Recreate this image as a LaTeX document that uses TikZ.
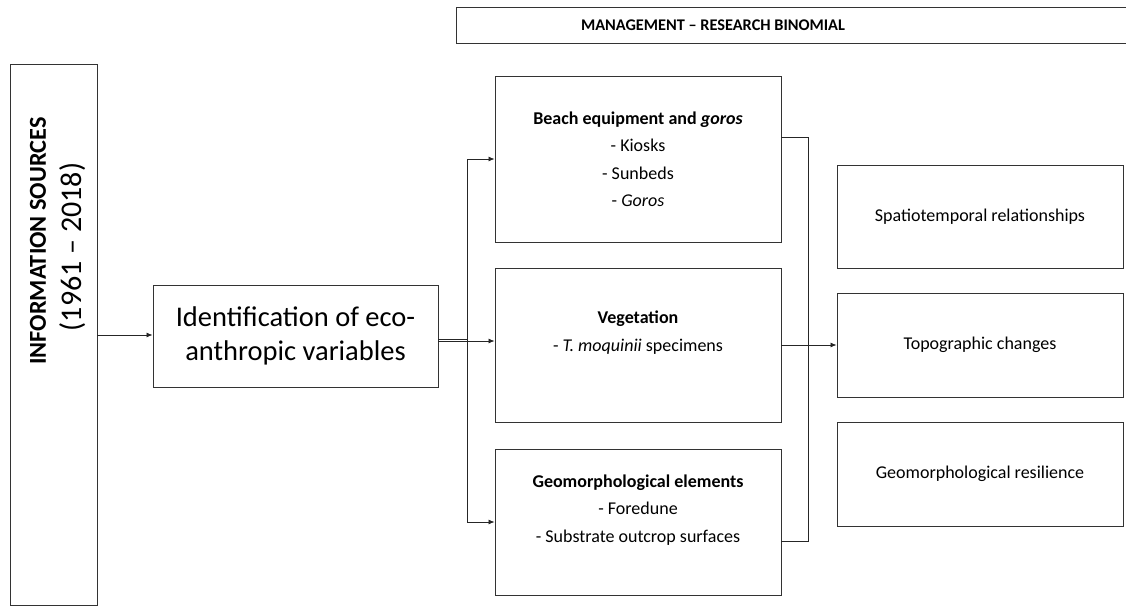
\documentclass[tikz,border=0pt]{standalone}
\usepackage{fontspec}
\setmainfont{Carlito}
\usetikzlibrary{arrows.meta}
\begin{document}
\begin{tikzpicture}[x=1pt,y=-1pt,
  box/.style={draw=black!80, line width=0.9pt, inner sep=0pt, align=center},
  conn/.style={draw=black!85, line width=0.8pt},
  arr/.style={conn, -{Latex[length=6pt,width=5pt]}},
  body/.style={font=\fontsize{18}{27.5}\selectfont}]
\useasboundingbox (0,0) rectangle (1126,608);
% header
\node[box, minimum width=680pt, minimum height=36pt, anchor=west] (hdr) at (456,25) {};
\node[font=\bfseries\fontsize{16.3}{20}\selectfont] (hdrtext) at (713,25) {MANAGEMENT – RESEARCH BINOMIAL};
% information sources
\node[box, rotate=90, minimum width=541pt, minimum height=87pt] (info) at (53.5,334.5) {};
\node[rotate=90, font=\bfseries\fontsize{24.3}{28}\selectfont] (infotext) at (38,241) {INFORMATION SOURCES};
\node[rotate=90, font=\fontsize{30}{32}\selectfont] (infoyears) at (73,247) {(1961 – 2018)};
% identification
\node[box, minimum width=285pt, minimum height=102pt, font=\fontsize{28.5}{34}\selectfont] (ident) at (295.5,336)
  {Identification of eco-\\anthropic variables};
% middle column
\node[box, body, minimum width=286pt, minimum height=166pt] (beach) at (638,159)
  {\textbf{Beach equipment and \textit{goros}}\\- Kiosks\\- Sunbeds\\- \textit{Goros}};
\node[box, body, minimum width=286pt, minimum height=154pt] (veg) at (638,345)
  {\textbf{Vegetation}\\- \textit{T. moquinii} specimens\\\mbox{}};
\node[box, body, minimum width=286pt, minimum height=146pt] (geo) at (638,522)
  {\textbf{Geomorphological elements}\\- Foredune\\- Substrate outcrop surfaces\\\mbox{}};
% right column
\node[box, body, minimum width=286pt, minimum height=103pt] (spat) at (980,216.5) {Spatiotemporal relationships};
\node[box, body, minimum width=286pt, minimum height=104pt] (topo) at (980,345) {Topographic changes};
\node[box, body, minimum width=286pt, minimum height=104pt] (resil) at (980,474) {Geomorphological resilience};
% connectors
\draw[arr] (info.south |- 0,335) -- (ident.west |- 0,335);
\coordinate (jt) at (467,159);
\coordinate (jb) at (467,522);
\coordinate (jm) at (467,341);
\draw[conn] (ident.east |- 0,339) -- (jm |- 0,339);
\draw[conn] (ident.east |- 0,341.5) -- (jm |- 0,341.5);
\draw[conn] (jt) -- (jb);
\draw[arr] (jt) -- (beach.west |- jt);
\draw[arr] (jb) -- (geo.west |- jb);
\draw[arr] (jm) -- (veg.west |- jm);
\coordinate (rt) at (808,137);
\coordinate (rb) at (808,541);
\draw[conn] (beach.east |- rt) -- (rt) -- (rb) -- (geo.east |- rb);
\draw[arr] (veg.east) -- (topo.west);
\end{tikzpicture}
\end{document}
